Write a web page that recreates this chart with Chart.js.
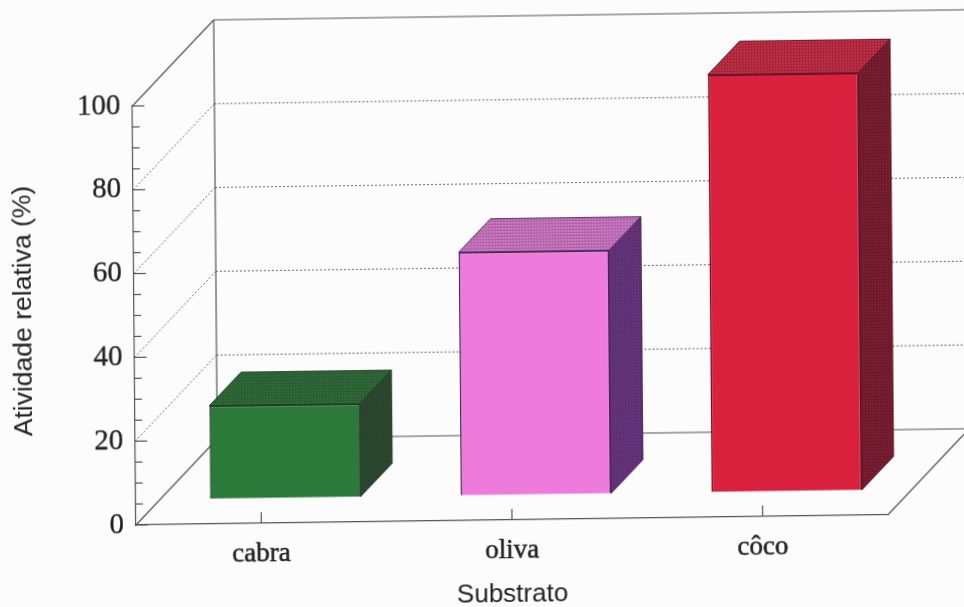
<!DOCTYPE html>
<html>
<head>
<meta charset="utf-8">
<title>Atividade relativa por substrato</title>
<script src="https://cdn.jsdelivr.net/npm/chart.js@4/dist/chart.umd.min.js"></script>
<style>
  html, body { margin:0; padding:0; width:964px; height:607px; overflow:hidden; background:#fdfcfd; }
  /* whole sheet sits slightly tilted and sheared */
  #wrap { position:absolute; left:0; top:0; width:1000px; height:640px; transform-origin:136px 525px; transform:matrix(1,-0.0135,0.0085,1,0,0); }
</style>
</head>
<body>
<div id="wrap"><canvas id="chart" width="1000" height="640"></canvas></div>
<script>
const categories = ["cabra","oliva","côco"];
const activity = [22.2, 58, 99.6];
const yTickValues = [0,20,40,60,80,100];
const yMinorValues = [5,10,15,25,30,35,45,50,55,65,70,75,85,90,95];
const yTitle = "Atividade relativa (%)";
const xTitle = "Substrato";
const frontColors = ["#2b7a39","#ee7bdc","#d9213e"];
const edgeColors = ["#1c3a22","#4b2358","#5e1022"];
const topColors = ["#27592f","#a9579f","#a51d35"];
const topDots = ["#33703c","#d58ad0","#c23a4c"];
const sideColors = ["#27402a","#5a2a70","#6b1429"];
const sideDots = ["#2f4c32","#6a3a80","#7d2438"];

const wallDepth = {x:82, y:-85};   // floor/wall perspective vector
const barOffset = {x:24.2, y:-25.3}; // bars stand inside the floor
const barDepth = {x:32, y:-33};

function dots(ctx, base, dot){
  const c = document.createElement('canvas');
  c.width = 3; c.height = 3;
  const g = c.getContext('2d');
  g.fillStyle = base; g.fillRect(0,0,3,3);
  g.fillStyle = dot; g.fillRect(0,0,2,2);
  return ctx.createPattern(c,'repeat');
}

function line(ctx, x1, y1, x2, y2){
  ctx.beginPath(); ctx.moveTo(x1,y1); ctx.lineTo(x2,y2); ctx.stroke();
}

function poly(ctx, pts, fill, stroke){
  ctx.beginPath();
  pts.forEach((p,i)=> i ? ctx.lineTo(p[0],p[1]) : ctx.moveTo(p[0],p[1]));
  ctx.closePath();
  ctx.fillStyle = fill; ctx.fill();
  ctx.strokeStyle = stroke; ctx.lineWidth = 1; ctx.stroke();
}

// walls, floor and tick marks behind the bars, then the box faces of each bar
const box3d = {
  id:'box3d',
  beforeDatasetsDraw(chart){
    const {ctx, chartArea:a, scales:{x,y}} = chart;
    const dx = wallDepth.x, dy = wallDepth.y;
    const right = a.right + dx;
    ctx.save();

    ctx.strokeStyle = '#666'; ctx.lineWidth = 1;
    ctx.setLineDash([2,2]);
    yTickValues.slice(1,-1).forEach(v=>{
      const py = y.getPixelForValue(v);
      line(ctx, a.left, py, a.left+dx, py+dy);
      line(ctx, a.left+dx, py+dy, right, py+dy);
    });
    ctx.setLineDash([]);

    const y0 = y.getPixelForValue(0), y100 = y.getPixelForValue(100);
    ctx.strokeStyle = '#555'; ctx.lineWidth = 1.2;
    line(ctx, a.left, y100, a.left+dx, y100+dy);
    line(ctx, a.left+dx, y100+dy, right, y100+dy);
    line(ctx, a.left+dx, y100+dy, a.left+dx, y0+dy);
    line(ctx, a.left, y0, a.left+dx, y0+dy);
    line(ctx, a.left+dx, y0+dy, right, y0+dy);
    line(ctx, a.right, y0, right, y0+dy);

    // inward ticks on both axes
    yTickValues.forEach(v=>{
      const py = y.getPixelForValue(v);
      line(ctx, a.left, py, a.left+12, py);
    });
    yMinorValues.forEach(v=>{
      const py = y.getPixelForValue(v);
      line(ctx, a.left, py, a.left+7, py);
    });
    categories.forEach((c,i)=>{
      const px = x.getPixelForValue(i);
      line(ctx, px, y0, px, y0-11);
    });

    ctx.translate(barOffset.x, barOffset.y);
    const bars = chart.getDatasetMeta(0).data;
    bars.forEach((bar,i)=>{
      const l = bar.x-bar.width/2, r = bar.x+bar.width/2, t = bar.y, b = bar.base;
      const bx = barDepth.x, by = barDepth.y;
      poly(ctx, [[r,t],[r+bx,t+by],[r+bx,b+by],[r,b]], dots(ctx,sideColors[i],sideDots[i]), edgeColors[i]);
      poly(ctx, [[l,t],[l+bx,t+by],[r+bx,t+by],[r,t]], dots(ctx,topColors[i],topDots[i]), edgeColors[i]);
    });
    // left translated for the bar elements, undone in afterDatasetsDraw
  },
  afterDatasetsDraw(chart){
    chart.ctx.restore();
  },
  // y title sits a little above the middle of the axis
  afterDraw(chart){
    const {ctx} = chart;
    ctx.save();
    ctx.translate(26, 309.5);
    ctx.rotate(-Math.PI/2);
    ctx.font = '26.5px "Liberation Sans"';
    ctx.fillStyle = '#222';
    ctx.textAlign = 'center';
    ctx.textBaseline = 'middle';
    ctx.fillText(yTitle, 0, 0);
    ctx.restore();
  }
};

new Chart(document.getElementById('chart'), {
  type:'bar',
  data:{
    labels:categories,
    datasets:[{
      data:activity,
      backgroundColor:frontColors,
      borderColor:edgeColors,
      borderWidth:1.5,
      barPercentage:0.6,
      categoryPercentage:1,
      clip:false
    }]
  },
  options:{
    responsive:false,
    animation:false,
    layout:{padding:{top:106,right:112,left:0,bottom:0}},
    plugins:{legend:{display:false},tooltip:{enabled:false}},
    scales:{
      x:{
        grid:{display:false,drawTicks:false},
        border:{display:true,color:'#555',width:1.2},
        ticks:{color:'#222',padding:15,maxRotation:0,textStrokeColor:'#222',textStrokeWidth:0.5,font:{family:'"Liberation Serif"',size:27}},
        title:{display:true,text:xTitle,color:'#222',padding:{top:0,bottom:25},font:{family:'"Liberation Sans"',size:26}},
        afterFit(scale){ scale.height = 115; }
      },
      y:{
        min:0,max:100,
        afterBuildTicks(scale){ scale.ticks = yTickValues.map(value=>({value})); },
        grid:{display:false,drawTicks:false},
        border:{display:true,color:'#555',width:1.2},
        ticks:{color:'#222',padding:12,textStrokeColor:'#222',textStrokeWidth:0.3,font:{family:'"Liberation Serif"',size:29}},
        afterFit(scale){ scale.width = 136; }
      }
    }
  },
  plugins:[box3d]
});
</script>
</body>
</html>
